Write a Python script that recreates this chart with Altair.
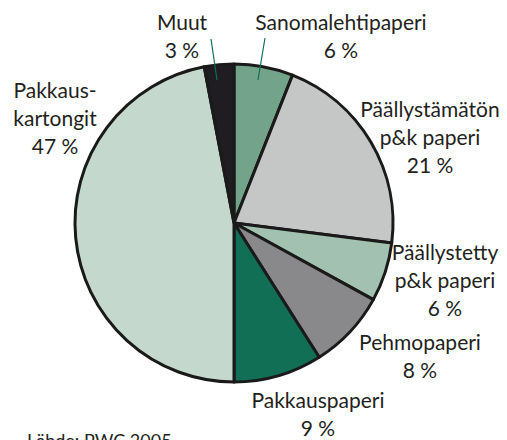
import altair as alt
import pandas as pd

# data
categories = ["Sanomalehtipaperi", "Päällystämätön p&k paperi", "Päällystetty p&k paperi",
              "Pehmopaperi", "Pakkauspaperi", "Pakkauskartongit", "Muut"]
shares = [6, 21, 6, 8, 9, 47, 3]
label_texts = ["Sanomalehtipaperi\n6 %", "Päällystämätön\np&k paperi\n21 %",
               "Päällystetty\np&k paperi\n6 %", "Pehmopaperi\n8 %", "Pakkauspaperi\n9 %",
               "Pakkaus-\nkartongit\n47 %", "Muut\n3 %"]
source_note = "Lähde: PWC 2005"

# styling / layout
colors = ["#74a38b", "#c5c7c6", "#a2c1b1", "#89898b", "#106f55", "#c4d8cd", "#1f1d21"]
label_x = [333, 422, 437, 412, 310, 47, 174]
label_y = [22, 109, 252, 342, 400, 90, 22]
leader_x1 = [257, 203]
leader_y1 = [30, 31]
leader_x2 = [250, 209]
leader_y2 = [72, 72]

W, H = 491, 432
CX, CY, R = 226, 215, 159
FONT = "Lato"
TEXT_COLOR = "#231f20"

pie_df = pd.DataFrame({"category": categories, "share": shares, "idx": list(range(len(categories)))})
lab_df = pd.DataFrame({"text": label_texts, "x": label_x, "y": label_y})
lead_df = pd.DataFrame({"x": leader_x1, "y": leader_y1, "x2": leader_x2, "y2": leader_y2})
note_df = pd.DataFrame({"text": [source_note], "x": [19], "y": [439]})

pie = alt.Chart(pie_df).mark_arc(
    outerRadius=R, stroke="#1a1a1a", strokeWidth=3, strokeJoin="round"
).encode(
    theta=alt.Theta("share:Q", stack=True),
    color=alt.Color("category:N", scale=alt.Scale(domain=categories, range=colors), legend=None),
    order=alt.Order("idx:Q"),
    x=alt.value(CX),
    y=alt.value(CY),
)

leaders = alt.Chart(lead_df).mark_rule(color="#106f55", strokeWidth=1.2).encode(
    x=alt.X("x:Q", scale=None), y=alt.Y("y:Q", scale=None),
    x2="x2:Q", y2="y2:Q",
)

labels = alt.Chart(lab_df).mark_text(
    font=FONT, fontSize=21, lineBreak="\n", lineHeight=28, align="center",
    baseline="alphabetic", color=TEXT_COLOR,
).encode(
    x=alt.X("x:Q", scale=None), y=alt.Y("y:Q", scale=None), text="text:N",
)

note = alt.Chart(note_df).mark_text(
    font=FONT, fontSize=18, align="left", baseline="alphabetic", color=TEXT_COLOR,
).encode(
    x=alt.X("x:Q", scale=None), y=alt.Y("y:Q", scale=None), text="text:N",
)

chart = alt.layer(pie, leaders, labels, note).properties(
    width=W, height=H, padding=0, autosize=alt.AutoSizeParams(type="none")
).configure_view(stroke=None)

chart.save("out.html", embed_options={"renderer": "svg", "actions": False})
